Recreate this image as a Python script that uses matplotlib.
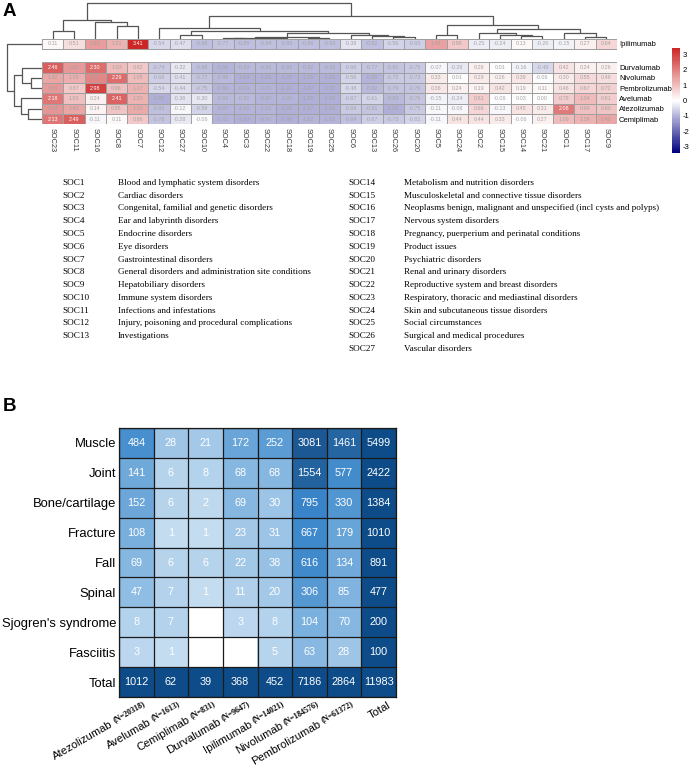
import numpy as np
import matplotlib
matplotlib.use("Agg")
import matplotlib.pyplot as plt
from matplotlib.colors import LinearSegmentedColormap, Normalize
from matplotlib.cm import ScalarMappable
from matplotlib.font_manager import FontProperties
from matplotlib.textpath import TextPath

plt.rcParams["axes.unicode_minus"] = False

W, H = 692, 766
SANS = "Liberation Sans"
SERIF = "Liberation Serif"

# ---------------- panel A: standardised SOC heatmap ----------------
SOC_ORDER = ["SOC23", "SOC11", "SOC16", "SOC8", "SOC7", "SOC12", "SOC27", "SOC10", "SOC4",
             "SOC3", "SOC22", "SOC18", "SOC19", "SOC25", "SOC6", "SOC13", "SOC26", "SOC20",
             "SOC5", "SOC24", "SOC2", "SOC15", "SOC14", "SOC21", "SOC1", "SOC17", "SOC9"]
DRUGS_A = ["Ipilimumab", "Durvalumab", "Nivolumab", "Pembrolizumab", "Avelumab",
           "Atezolizumab", "Cemiplimab"]

IPILIMUMAB = [0.11, 0.51, 1.53, 1.21, 3.41, -0.54, -0.47, -0.88, -0.77, -0.85, -0.84, -0.85, -0.86,
              -0.83, -0.38, -0.82, -0.56, -0.65, 1.45, 0.88, -0.25, -0.24, 0.13, -0.26, -0.15, 0.27, 0.64]
DURVALUMAB = [2.46, 1.62, 2.30, 1.03, 0.82, -0.74, -0.32, -0.88, -0.98, -0.93, -0.91, -0.92, -0.92,
              -0.93, -0.66, -0.77, -0.81, -0.75, -0.07, -0.28, 0.26, 0.01, -0.16, -0.49, 0.42, 0.24, 0.26]
NIVOLUMAB = [1.42, 1.29, 1.87, 2.29, 1.05, -0.68, -0.41, -0.77, -0.95, -1.04, -1.06, -1.05, -1.05,
             -1.08, -0.56, -0.98, -0.72, -0.73, 0.33, 0.01, 0.29, 0.26, 0.39, -0.06, 0.30, 0.55, 0.49]
PEMBROLIZUMAB = [1.60, 0.87, 2.98, 0.98, 1.17, -0.54, -0.44, -0.75, -0.96, -0.99, -1.01, -1.07, -1.07,
                 -1.07, -0.48, -0.92, -0.79, -0.76, 0.36, 0.24, 0.19, 0.42, 0.19, 0.11, 0.46, 0.67, 0.72]
AVELUMAB = [2.18, 1.01, 0.24, 2.41, 1.20, -1.05, -0.36, -0.30, -0.92, -0.91, -0.97, -1.00, -1.05,
            -1.05, -0.67, -0.61, -0.93, -0.76, -0.15, -0.24, 0.81, -0.06, 0.03, 0.00, 0.78, 1.04, 0.81]
ATEZOLIZUMAB = [1.64, 1.42, 0.14, 0.95, 1.30, -0.85, -0.12, -0.59, -0.97, -1.00, -1.02, -1.06, -1.07,
                -1.06, -0.69, -0.81, -1.03, -0.75, -0.11, -0.08, 0.66, -0.13, 0.45, 0.31, 2.08, 0.99, 0.90]
CEMIPLIMAB = [2.13, 2.49, -0.11, 0.11, 0.86, -0.78, -0.28, -0.06, -1.01, -1.03, -0.97, -1.06, -1.02,
              -1.02, -0.84, -0.67, -0.73, -0.61, -0.11, 0.44, 0.44, 0.33, -0.06, 0.27, 1.09, 1.19, 1.40]

# dendrograms: (left, right, merge height); leaves are positions in display order
COL_TREE = (((0, 1, 8), (2, (3, 4, 13), 17), 19),
            ((5, ((6, 7, 4),
                  ((((8, 9, 0.4), (10, 11, 0.6), 0.9), (12, 13, 0.7), 1.2),
                   (14, (15, (16, 17, 2), 3), 4), 6), 8), 11),
             ((18, 19, 4), ((20, (21, (22, 23, 3), 4), 6), (24, (25, 26, 2), 6), 10), 14), 23),
            36)
ROW_TREE = (0, ((1, (2, 3, 11), 20), (4, (5, 6, 14), 21), 28), 35)

SOC_NAMES_LEFT = [
    ("SOC1", "Blood and lymphatic system disorders"),
    ("SOC2", "Cardiac disorders"),
    ("SOC3", "Congenital, familial and genetic disorders"),
    ("SOC4", "Ear and labyrinth disorders"),
    ("SOC5", "Endocrine disorders"),
    ("SOC6", "Eye disorders"),
    ("SOC7", "Gastrointestinal disorders"),
    ("SOC8", "General disorders and administration site conditions"),
    ("SOC9", "Hepatobiliary disorders"),
    ("SOC10", "Immune system disorders"),
    ("SOC11", "Infections and infestations"),
    ("SOC12", "Injury, poisoning and procedural complications"),
    ("SOC13", "Investigations"),
]
SOC_NAMES_RIGHT = [
    ("SOC14", "Metabolism and nutrition disorders"),
    ("SOC15", "Musculoskeletal and connective tissue disorders"),
    ("SOC16", "Neoplasms benign, malignant and unspecified (incl cysts and polyps)"),
    ("SOC17", "Nervous system disorders"),
    ("SOC18", "Pregnancy, puerperium and perinatal conditions"),
    ("SOC19", "Product issues"),
    ("SOC20", "Psychiatric disorders"),
    ("SOC21", "Renal and urinary disorders"),
    ("SOC22", "Reproductive system and breast disorders"),
    ("SOC23", "Respiratory, thoracic and mediastinal disorders"),
    ("SOC24", "Skin and subcutaneous tissue disorders"),
    ("SOC25", "Social circumstances"),
    ("SOC26", "Surgical and medical procedures"),
    ("SOC27", "Vascular disorders"),
]

# ---------------- panel B: musculoskeletal counts ----------------
ROWS_B = ["Muscle", "Joint", "Bone/cartilage", "Fracture", "Fall", "Spinal",
          "Sjogren's syndrome", "Fasciitis"]
DRUGS_B = ["Atezolizumab", "Avelumab", "Cemiplimab", "Durvalumab", "Ipilimumab",
           "Nivolumab", "Pembrolizumab"]
N_CASES = [20318, 1613, 831, 9647, 14021, 184576, 61372]
MUSCLE = [484, 28, 21, 172, 252, 3081, 1461]
JOINT = [141, 6, 8, 68, 68, 1554, 577]
BONE = [152, 6, 2, 69, 30, 795, 330]
FRACTURE = [108, 1, 1, 23, 31, 667, 179]
FALL = [69, 6, 6, 22, 38, 616, 134]
SPINAL = [47, 7, 1, 11, 20, 306, 85]
SJOGREN = [8, 7, 0, 3, 8, 104, 70]
FASCIITIS = [3, 1, 0, 0, 5, 63, 28]


def px_axes(fig, x0, y0, w, h):
    return fig.add_axes([x0 / W, 1 - (y0 + h) / H, w / W, h / H])


def draw_tree(ax, node, leaf_pos, horizontal):
    if isinstance(node, int):
        return leaf_pos[node], 0.0
    left, right, h = node
    cl, hl = draw_tree(ax, left, leaf_pos, horizontal)
    cr, hr = draw_tree(ax, right, leaf_pos, horizontal)
    pos = [cl, cl, cr, cr]
    hts = [hl, h, h, hr]
    if horizontal:
        ax.plot(pos, hts, color="#555555", lw=0.9, solid_capstyle="butt")
    else:
        ax.plot(hts, pos, color="#555555", lw=0.9, solid_capstyle="butt")
    return (cl + cr) / 2, h


fig = plt.figure(figsize=(W / 100, H / 100), dpi=100)

# ---- panel A heatmap ----
mat = np.array([IPILIMUMAB, DURVALUMAB, NIVOLUMAB, PEMBROLIZUMAB, AVELUMAB, ATEZOLIZUMAB, CEMIPLIMAB])
ncol = mat.shape[1]
GAP = 1.31
start = 1 + GAP
row_centers = [0.5] + [start + k + 0.5 for k in range(6)]
vmax = np.abs(mat).max()
cmap_a = LinearSegmentedColormap.from_list("pheat", ["#000080", "#ffffff", "#CD2626"], N=100)
norm_a = Normalize(-vmax, vmax)

ax_h = px_axes(fig, 42, 38.5, 575, 85.8)
ax_h.pcolormesh(np.arange(ncol + 1), [0, 1], mat[:1], cmap=cmap_a, norm=norm_a,
                edgecolors="#a0a0a0", linewidth=0.4)
ax_h.pcolormesh(np.arange(ncol + 1), start + np.arange(7), mat[1:], cmap=cmap_a, norm=norm_a,
                edgecolors="#a0a0a0", linewidth=0.4)
for i in range(mat.shape[0]):
    for j in range(ncol):
        v = mat[i, j]
        col = "white" if v > 2.0 else "#a4a4a4"
        ax_h.text(j + 0.5, row_centers[i], f"{v:.2f}", ha="center", va="center",
                  fontsize=3.9, color=col, family=SANS)
ax_h.set_xlim(0, ncol)
ax_h.set_ylim(start + 6, 0)
for sp in ax_h.spines.values():
    sp.set_visible(False)
ax_h.set_xticks(np.arange(ncol) + 0.5)
ax_h.set_xticklabels(SOC_ORDER, rotation=270, fontsize=5.3, color="#333333", family=SANS)
ax_h.yaxis.tick_right()
ax_h.set_yticks(row_centers)
ax_h.set_yticklabels(DRUGS_A, fontsize=5.5, color="black", family=SANS)
ax_h.tick_params(length=0, pad=3)
ax_h.tick_params(axis="y", pad=1.5)

# column dendrogram
ax_ct = px_axes(fig, 42, 0, 575, 38.5)
draw_tree(ax_ct, COL_TREE, [j + 0.5 for j in range(ncol)], True)
ax_ct.set_xlim(0, ncol)
ax_ct.set_ylim(0, 38.5)
ax_ct.axis("off")

# row dendrogram
ax_rt = px_axes(fig, 0, 38.5, 42, 85.8)
draw_tree(ax_rt, ROW_TREE, row_centers, False)
ax_rt.set_xlim(42, 0)
ax_rt.set_ylim(start + 6, 0)
ax_rt.axis("off")

# colour legend
cax = px_axes(fig, 672, 48, 8, 105)
cb = fig.colorbar(ScalarMappable(norm=norm_a, cmap=cmap_a), cax=cax, ticks=range(-3, 4))
cb.outline.set_visible(False)
cax.tick_params(length=0, labelsize=5.5, pad=2)
for t in cax.get_yticklabels():
    t.set_family(SANS)

fig.text(3 / W, 1 - 3 / H, "A", fontsize=13.5, fontweight="bold", family=SANS, va="top")

# SOC legend list
for k, (code, name) in enumerate(SOC_NAMES_LEFT):
    y = 1 - (183 + k * 12.75) / H
    fig.text(62 / W, y, code, fontsize=6.6, family=SERIF, va="center")
    fig.text(118 / W, y, name, fontsize=6.6, family=SERIF, va="center")
for k, (code, name) in enumerate(SOC_NAMES_RIGHT):
    y = 1 - (183 + k * 12.75) / H
    fig.text(348 / W, y, code, fontsize=6.6, family=SERIF, va="center")
    fig.text(404 / W, y, name, fontsize=6.6, family=SERIF, va="center")

# ---- panel B table heatmap ----
counts = np.array([MUSCLE, JOINT, BONE, FRACTURE, FALL, SPINAL, SJOGREN, FASCIITIS])
row_tot = counts.sum(axis=1)
col_tot = counts.sum(axis=0)
full = np.zeros((counts.shape[0] + 1, counts.shape[1] + 1), dtype=int)
full[:-1, :-1] = counts
full[:-1, -1] = row_tot
full[-1, :-1] = col_tot
full[-1, -1] = counts.sum()

cmap_b = LinearSegmentedColormap.from_list("blues_b", [
    (0.0, "#c4dcf0"), (1.0 / 3.5, "#b2d1ec"), (1.5 / 3.5, "#9cc4e6"), (2.0 / 3.5, "#7cb1de"),
    (2.5 / 3.5, "#5498d2"), (2.9 / 3.5, "#3a86ca"), (3.2 / 3.5, "#22629e"), (1.0, "#1c5893")])
norm_b = Normalize(0, 3.5)
TOTAL_COLOR = "#0d4c88"

nr, nc = full.shape
rgba = np.ones((nr, nc, 4))
for i in range(nr):
    for j in range(nc):
        v = full[i, j]
        if i == nr - 1 or j == nc - 1:
            rgba[i, j] = matplotlib.colors.to_rgba(TOTAL_COLOR)
        elif v > 0:
            rgba[i, j] = cmap_b(norm_b(np.log10(v)))

ax_b = px_axes(fig, 119, 428, 277, 269)
ax_b.imshow(rgba, extent=(0, nc, nr, 0), aspect="auto", interpolation="nearest")
ax_b.hlines(np.arange(nr + 1), 0, nc, color="#1a1a1a", lw=0.9)
ax_b.vlines(np.arange(nc + 1), 0, nr, color="#1a1a1a", lw=0.9)
for i in range(nr):
    for j in range(nc):
        v = full[i, j]
        if v > 0:
            ax_b.text(j + 0.5, i + 0.5, str(v), ha="center", va="center",
                      fontsize=7.8, color="white", family=SANS)
ax_b.set_xlim(0, nc)
ax_b.set_ylim(nr, 0)
for sp in ax_b.spines.values():
    sp.set_color("#1a1a1a")
    sp.set_linewidth(0.9)
ax_b.set_xticks([])
ax_b.set_yticks(np.arange(nr) + 0.5)
ax_b.set_yticklabels(ROWS_B + ["Total"], fontsize=9.4, family=SANS)
ax_b.tick_params(axis="y", length=0, pad=2)

fp_drug = FontProperties(family=SANS, size=8.1)
fp_n = FontProperties(family=SERIF, weight="bold", size=5.8)
ang = np.deg2rad(30)
c, s = np.cos(ang), np.sin(ang)
qx, qy = 7.0, -5.5
for j in range(nc):
    if j < len(DRUGS_B):
        ntxt = f"(N={N_CASES[j]})"
        wn = TextPath((0, 0), ntxt, prop=fp_n).get_extents().width
        ax_b.annotate(ntxt, xy=(j + 0.5, nr), xycoords="data", xytext=(qx, qy),
                      textcoords="offset points", rotation=30, rotation_mode="anchor",
                      ha="right", va="baseline", fontproperties=fp_n, annotation_clip=False)
        L = wn + 2.2
        rz = 1.6
        ax_b.annotate(DRUGS_B[j], xy=(j + 0.5, nr), xycoords="data",
                      xytext=(qx - L * c + rz * s, qy - L * s - rz * c),
                      textcoords="offset points", rotation=30, rotation_mode="anchor",
                      ha="right", va="baseline", fontproperties=fp_drug, annotation_clip=False)
    else:
        ax_b.annotate("Total", xy=(j + 0.5, nr), xycoords="data", xytext=(qx + 2, qy - 1.5),
                      textcoords="offset points", rotation=30, rotation_mode="anchor",
                      ha="right", va="baseline", fontproperties=fp_drug, annotation_clip=False)

fig.text(3 / W, 1 - 398 / H, "B", fontsize=13.5, fontweight="bold", family=SANS, va="top")

fig.savefig("out.png", dpi=100)
